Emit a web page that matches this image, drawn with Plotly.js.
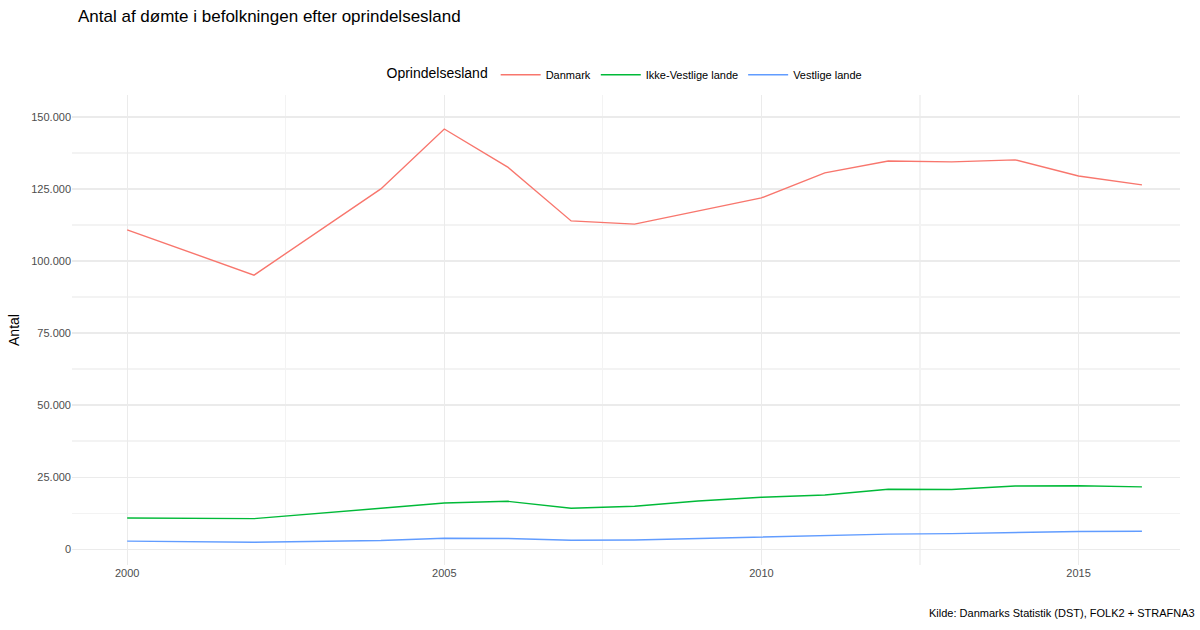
<!DOCTYPE html>
<html>
<head>
<meta charset="utf-8">
<script src="https://cdn.plot.ly/plotly-3.0.1.min.js"></script>
<style>body{margin:0;background:#fff}#chart{width:1200px;height:630px}</style>
</head>
<body>
<div id="chart"></div>
<script>
const years = [2000, 2002, 2004, 2005, 2006, 2007, 2008, 2009, 2010, 2011, 2012, 2013, 2014, 2015, 2016];
const danmark = [110800, 95100, 125000, 145800, 132600, 113900, 112800, 117300, 121900, 130600, 134700, 134400, 135100, 129500, 126400];
const ikkeVestlige = [10800, 10600, 14200, 16000, 16600, 14200, 14900, 16700, 18000, 18800, 20800, 20700, 21900, 22000, 21600];
const vestlige = [2800, 2400, 3000, 3800, 3700, 3100, 3200, 3700, 4200, 4800, 5200, 5400, 5800, 6100, 6200];

const makeLine = (name, values, color) => ({
  x: years,
  y: values,
  name: name,
  type: "scatter",
  mode: "lines",
  line: { color: color, width: 1.4 },
});

const traces = [
  makeLine("Danmark", danmark, "#F8766D"),
  makeLine("Ikke-Vestlige lande", ikkeVestlige, "#00BA38"),
  makeLine("Vestlige lande", vestlige, "#619CFF"),
];

const layout = {
  width: 1200,
  height: 630,
  paper_bgcolor: "#fff",
  plot_bgcolor: "#fff",
  separators: ",.",
  font: { family: "Liberation Sans, Arial, sans-serif", color: "#000", size: 11 },
  margin: { l: 72, r: 20, t: 95, b: 65 },
  title: {
    text: "Antal af dømte i befolkningen efter oprindelsesland",
    x: 0.065, xanchor: "left", y: 0.975, yanchor: "middle",
    font: { size: 17 },
  },
  legend: {
    orientation: "h", x: 0.5, xanchor: "center", y: 1.043, yanchor: "middle",
    title: { text: "Oprindelsesland", font: { size: 14 } },
    font: { size: 11 },
    itemwidth: 40,
  },
  xaxis: {
    range: [1999.13, 2016.6],
    tickvals: [2000, 2005, 2010, 2015],
    showgrid: true, gridcolor: "#ebebeb", gridwidth: 1.2,
    minor: { dtick: 2.5, tick0: 2000, showgrid: true, gridcolor: "#f3f3f3" },
    zeroline: false, showline: false, ticks: "",
    tickfont: { color: "#4d4d4d", size: 11 },
  },
  yaxis: {
    range: [-5500, 157600],
    tickvals: [0, 25000, 50000, 75000, 100000, 125000, 150000],
    tickformat: ",d",
    showgrid: true, gridcolor: "#ebebeb", gridwidth: 1.2,
    minor: { dtick: 12500, tick0: 0, showgrid: true, gridcolor: "#f3f3f3" },
    zeroline: false, showline: false, ticks: "",
    tickfont: { color: "#4d4d4d", size: 11 },
    title: { text: "Antal", font: { size: 14 }, standoff: 8 },
  },
  annotations: [
    {
      text: "Inddelt i Danmark, Vestlige lande og Ikke-Vestlige lande som defineret af DST.",
      xref: "paper", yref: "paper", x: -0.0005, y: 1.232, xanchor: "left", yanchor: "middle",
      showarrow: false, font: { size: 14 },
    },
    {
      text: "Kilde: Danmarks Statistik (DST), FOLK2 + STRAFNA3",
      xref: "paper", yref: "paper", x: 1.015, y: -0.102, xanchor: "right", yanchor: "middle",
      showarrow: false, font: { size: 11 },
    },
  ],
};

Plotly.newPlot("chart", traces, layout, { displayModeBar: false, staticPlot: true });
</script>
</body>
</html>
